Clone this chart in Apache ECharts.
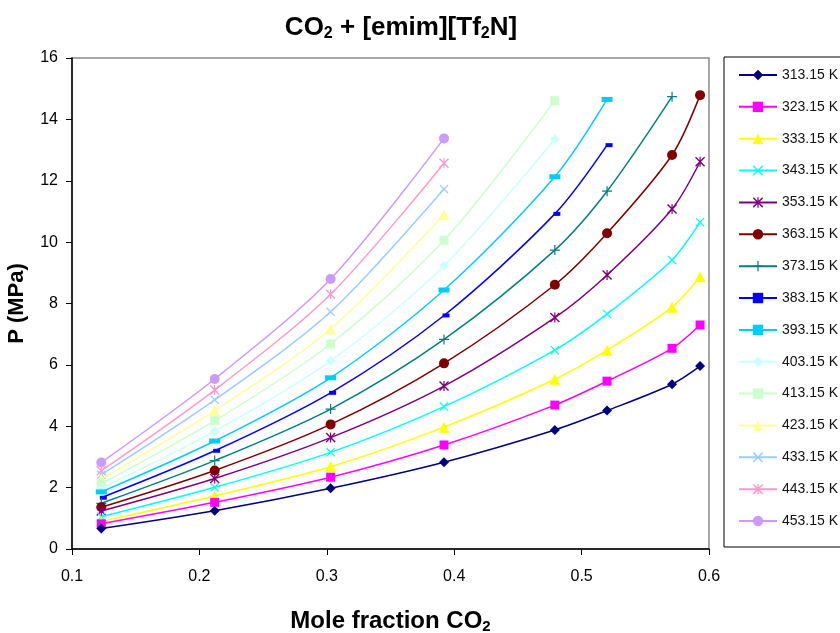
<!DOCTYPE html>
<html>
<head>
<meta charset="utf-8">
<script src="https://cdn.jsdelivr.net/npm/echarts@6/dist/echarts.min.js"></script>
<style>
  html, body { margin: 0; padding: 0; background: #fff; }
  #chart { width: 840px; height: 633px; }
</style>
</head>
<body>
<div id="chart"></div>
<script>
// CO2 mole fractions (shared by every isotherm)
const moleFraction = [0.123, 0.212, 0.303, 0.392, 0.479, 0.520, 0.571, 0.593];

// Isotherm labels
const temperatures = ['313.15 K', '323.15 K', '333.15 K', '343.15 K', '353.15 K',
  '363.15 K', '373.15 K', '383.15 K', '393.15 K', '403.15 K', '413.15 K',
  '423.15 K', '433.15 K', '443.15 K', '453.15 K'];

// Bubble-point pressures in MPa, one array per isotherm
const p313 = [0.67, 1.25, 1.98, 2.83, 3.88, 4.51, 5.37, 5.96];
const p323 = [0.82, 1.52, 2.34, 3.39, 4.69, 5.47, 6.54, 7.30];
const p333 = [0.90, 1.73, 2.68, 3.97, 5.53, 6.48, 7.88, 8.87];
const p343 = [1.05, 2.01, 3.15, 4.64, 6.48, 7.66, 9.42, 10.65];
const p353 = [1.24, 2.30, 3.63, 5.31, 7.54, 8.93, 11.08, 12.62];
const p363 = [1.36, 2.56, 4.06, 6.05, 8.61, 10.29, 12.84, 14.79];
const p373 = [1.49, 2.88, 4.56, 6.83, 9.74, 11.66, 14.74];
const p383 = [1.67, 3.20, 5.09, 7.61, 10.92, 13.16];
const p393 = [1.86, 3.52, 5.58, 8.44, 12.13, 14.65];
const p403 = [1.98, 3.84, 6.13, 9.23, 13.35];
const p413 = [2.12, 4.18, 6.68, 10.06, 14.61];
const p423 = [2.28, 4.51, 7.17, 10.90];
const p433 = [2.42, 4.86, 7.73, 11.73];
const p443 = [2.55, 5.18, 8.30, 12.57];
const p453 = [2.82, 5.54, 8.80, 13.38];

const pressures = [p313, p323, p333, p343, p353, p363, p373, p383, p393,
  p403, p413, p423, p433, p443, p453];

// Axis ticks
const xTicks = { min: 0.1, max: 0.6, step: 0.1 };
const yTicks = { min: 0, max: 16, step: 2 };

// Marker shapes
const X_PATH = 'path://M0,1 L1,0 L10,9 L9,10 Z M9,0 L10,1 L1,10 L0,9 Z';
const STAR_PATH = 'path://M0,1 L1,0 L10,9 L9,10 Z M9,0 L10,1 L1,10 L0,9 Z M4.4,0 L5.6,0 L5.6,10 L4.4,10 Z';
const PLUS_PATH = 'path://M4.4,0 L5.6,0 L5.6,10 L4.4,10 Z M0,4.4 L10,4.4 L10,5.6 L0,5.6 Z';

const styles = [
  { color: '#000080', symbol: 'diamond', size: 10 },
  { color: '#FF00FF', symbol: 'rect', size: 9 },
  { color: '#FFFF00', symbol: 'triangle', size: 11 },
  { color: '#00FFFF', symbol: X_PATH, size: 9 },
  { color: '#800080', symbol: STAR_PATH, size: 10 },
  { color: '#800000', symbol: 'circle', size: 10 },
  { color: '#008080', symbol: PLUS_PATH, size: 10 },
  { color: '#0000FF', symbol: 'rect', size: [7, 4], offset: [2, 0] },
  { color: '#00CCFF', symbol: 'rect', size: [11, 5] },
  { color: '#CCFFFF', symbol: 'diamond', size: 10 },
  { color: '#CCFFCC', symbol: 'rect', size: 9 },
  { color: '#FFFF99', symbol: 'triangle', size: 11 },
  { color: '#99CCFF', symbol: X_PATH, size: 9 },
  { color: '#FF99CC', symbol: STAR_PATH, size: 10 },
  { color: '#CC99FF', symbol: 'circle', size: 10 }
];

const FONT = '"Liberation Sans", Arial, sans-serif';

const series = temperatures.map((name, i) => {
  const st = styles[i];
  return {
    name: name,
    type: 'line',
    smooth: 0.3,
    data: pressures[i].map((p, k) => [moleFraction[k], p]),
    symbol: st.symbol,
    symbolSize: st.size,
    symbolOffset: st.offset || [0, 0],
    showAllSymbol: true,
    lineStyle: { color: st.color, width: 1.5 },
    itemStyle: { color: st.color, borderWidth: 0 },
    emphasis: { disabled: true },
    z: 2 + (15 - i)
  };
});

const chart = echarts.init(document.getElementById('chart'), null, { renderer: 'canvas' });
chart.setOption({
  animation: false,
  backgroundColor: '#ffffff',
  title: {
    text: 'CO{sub|2} + [emim][Tf{sub|2}N]',
    left: 396,
    textAlign: 'center',
    top: 9,
    textStyle: {
      fontFamily: FONT, fontSize: 26, fontWeight: 'bold', color: '#000',
      rich: {
        sub: { fontFamily: FONT, fontSize: 16, fontWeight: 'bold', verticalAlign: 'bottom', padding: [12, 0, 0, 0] }
      }
    }
  },
  grid: {
    left: 72, right: 131, top: 58, bottom: 84,
    outerBoundsMode: 'none',
    show: true, borderColor: '#8a8a8a', borderWidth: 1.5, backgroundColor: '#fff'
  },
  legend: {
    orient: 'vertical',
    left: 738,
    top: 68,
    padding: 0,
    itemWidth: 38,
    itemHeight: 13,
    itemGap: 17.86,
    textStyle: { fontFamily: FONT, fontSize: 14, color: '#111' },
    data: temperatures
  },
  graphic: [{
    type: 'rect',
    shape: { x: 724, y: 57, width: 140, height: 490 },
    style: { fill: 'none', stroke: '#000', lineWidth: 1 },
    z: 0
  }],
  xAxis: {
    type: 'value',
    min: xTicks.min, max: xTicks.max, interval: xTicks.step,
    name: 'Mole fraction CO{sub|2}',
    nameLocation: 'middle',
    nameGap: 59,
    nameTextStyle: {
      fontFamily: FONT, fontSize: 24, fontWeight: 'bold', color: '#000',
      rich: { sub: { fontFamily: FONT, fontSize: 15, fontWeight: 'bold', padding: [11, 0, 0, 0] } }
    },
    axisLine: { show: true, lineStyle: { color: '#000', width: 1.5 } },
    axisTick: { show: true, inside: false, length: 6, lineStyle: { color: '#000' } },
    axisLabel: {
      fontFamily: FONT, fontSize: 16, color: '#000', margin: 20,
      formatter: v => v.toFixed(1)
    },
    splitLine: { show: false }
  },
  yAxis: {
    type: 'value',
    min: yTicks.min, max: yTicks.max, interval: yTicks.step,
    name: 'P (MPa)',
    nameLocation: 'middle',
    nameGap: 44,
    nameTextStyle: { fontFamily: FONT, fontSize: 22, fontWeight: 'bold', color: '#000' },
    axisLine: { show: true, lineStyle: { color: '#000', width: 1.5 } },
    axisTick: { show: true, inside: false, length: 6, lineStyle: { color: '#000' } },
    axisLabel: { fontFamily: FONT, fontSize: 16, color: '#000', margin: 14 },
    splitLine: { show: false }
  },
  series: series
});
</script>
</body>
</html>
